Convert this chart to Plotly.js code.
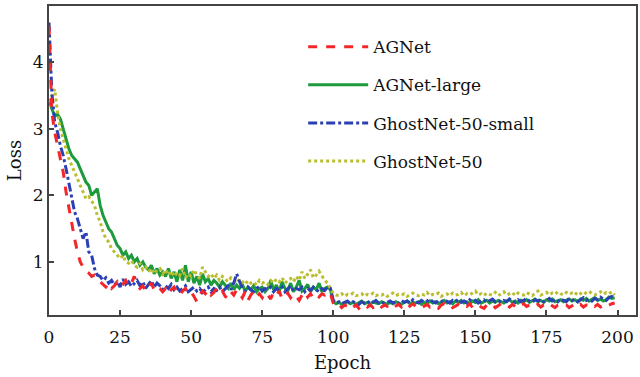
<!DOCTYPE html>
<html><head><meta charset="utf-8">
<script src="https://cdn.plot.ly/plotly-3.0.1.min.js"></script>
<style>html,body{margin:0;padding:0;background:#fff}#chart{width:640px;height:377px}</style>
</head><body><div id="chart"></div>
<script>
const seriesNames = ["AGNet", "AGNet-large", "GhostNet-50-small", "GhostNet-50"];
const xTicks = [0, 25, 50, 75, 100, 125, 150, 175, 200];
const yTicks = [1, 2, 3, 4];

const agnet = [
4.55,3.25,2.95,2.75,2.55,2.35,2.05,1.8,1.55,1.35,1.15,1.0,0.92,0.86,0.83,0.78,0.8,0.74,0.7,0.66,
0.62,0.68,0.6,0.64,0.7,0.62,0.66,0.72,0.63,0.68,0.78,0.66,0.6,0.64,0.56,0.62,0.68,0.58,0.63,0.6,
0.55,0.6,0.52,0.58,0.62,0.55,0.5,0.56,0.6,0.52,0.55,0.48,0.4,0.5,0.56,0.52,0.58,0.5,0.54,0.6,
0.52,0.56,0.48,0.45,0.55,0.5,0.58,0.52,0.46,0.55,0.42,0.5,0.56,0.48,0.52,0.46,0.54,0.5,0.44,0.55,
0.5,0.56,0.44,0.5,0.53,0.46,0.52,0.48,0.42,0.5,0.55,0.47,0.52,0.45,0.5,0.47,0.52,0.5,0.55,0.52,
0.38,0.33,0.36,0.31,0.35,0.33,0.37,0.32,0.35,0.3,0.34,0.36,0.32,0.35,0.31,0.34,0.37,0.32,0.35,0.33,
0.36,0.31,0.34,0.36,0.32,0.35,0.3,0.34,0.37,0.33,0.35,0.31,0.34,0.36,0.32,0.35,0.33,0.3,0.35,0.37,
0.33,0.35,0.31,0.34,0.36,0.32,0.35,0.33,0.37,0.31,0.34,0.36,0.32,0.3,0.35,0.33,0.36,0.31,0.34,0.37,
0.33,0.35,0.32,0.36,0.33,0.3,0.35,0.37,0.33,0.35,0.31,0.34,0.36,0.32,0.35,0.33,0.37,0.34,0.31,0.35,
0.36,0.33,0.35,0.31,0.34,0.37,0.33,0.36,0.32,0.35,0.34,0.37,0.33,0.36,0.32,0.34,0.31,0.35,0.37,0.38];

const agnetLarge = [
3.45,3.3,3.2,3.22,3.15,3.0,2.85,2.7,2.6,2.55,2.5,2.4,2.3,2.2,2.15,2.0,2.05,2.1,1.85,1.7,
1.6,1.5,1.45,1.35,1.25,1.2,1.1,1.15,1.05,1.1,1.0,1.05,0.95,1.0,0.92,0.88,0.95,0.82,0.9,0.8,
0.85,0.78,0.9,0.75,0.85,0.7,0.88,0.72,0.95,0.7,0.85,0.68,0.78,0.65,0.82,0.7,0.75,0.65,0.72,0.68,
0.62,0.7,0.65,0.6,0.68,0.58,0.65,0.6,0.66,0.56,0.62,0.58,0.64,0.55,0.6,0.62,0.55,0.6,0.72,0.58,
0.65,0.55,0.7,0.6,0.56,0.68,0.55,0.62,0.72,0.56,0.6,0.66,0.55,0.62,0.58,0.68,0.55,0.6,0.62,0.58,
0.4,0.37,0.39,0.36,0.38,0.4,0.37,0.39,0.36,0.38,0.41,0.37,0.39,0.36,0.4,0.38,0.37,0.4,0.38,0.36,
0.39,0.37,0.4,0.38,0.36,0.39,0.41,0.37,0.39,0.38,0.4,0.36,0.39,0.37,0.41,0.38,0.4,0.37,0.39,0.42,
0.38,0.4,0.37,0.41,0.39,0.42,0.38,0.4,0.37,0.41,0.39,0.43,0.38,0.4,0.42,0.38,0.41,0.39,0.42,0.4,
0.38,0.41,0.43,0.39,0.41,0.38,0.42,0.4,0.43,0.39,0.41,0.44,0.4,0.42,0.39,0.43,0.41,0.44,0.4,0.42,
0.43,0.4,0.42,0.44,0.41,0.43,0.4,0.44,0.42,0.45,0.41,0.43,0.46,0.42,0.44,0.41,0.43,0.47,0.45,0.46];

const ghostSmall = [
4.6,3.55,3.1,2.95,2.75,2.6,2.4,2.2,2.0,1.75,1.65,1.5,1.35,1.45,1.15,1.1,0.9,0.8,0.78,0.72,
0.76,0.68,0.72,0.65,0.7,0.62,0.74,0.66,0.7,0.63,0.68,0.72,0.64,0.7,0.6,0.66,0.72,0.62,0.68,0.64,
0.58,0.64,0.6,0.66,0.58,0.62,0.56,0.6,0.64,0.55,0.58,0.62,0.56,0.6,0.54,0.58,0.62,0.55,0.6,0.57,
0.62,0.55,0.6,0.64,0.58,0.68,0.82,0.7,0.6,0.56,0.62,0.58,0.55,0.6,0.63,0.56,0.6,0.58,0.62,0.55,
0.6,0.57,0.62,0.55,0.6,0.64,0.56,0.6,0.58,0.62,0.55,0.6,0.57,0.62,0.58,0.55,0.6,0.57,0.62,0.6,
0.42,0.38,0.4,0.37,0.39,0.41,0.37,0.4,0.38,0.36,0.4,0.38,0.41,0.37,0.39,0.42,0.38,0.4,0.37,0.39,
0.41,0.38,0.4,0.37,0.42,0.39,0.41,0.38,0.43,0.4,0.38,0.42,0.39,0.41,0.44,0.4,0.38,0.42,0.4,0.43,
0.41,0.38,0.42,0.4,0.44,0.39,0.41,0.38,0.43,0.4,0.42,0.38,0.41,0.43,0.39,0.41,0.44,0.4,0.42,0.39,
0.42,0.4,0.44,0.41,0.39,0.43,0.4,0.42,0.45,0.41,0.39,0.43,0.41,0.44,0.4,0.42,0.45,0.41,0.43,0.4,
0.44,0.42,0.4,0.45,0.42,0.44,0.4,0.43,0.46,0.42,0.44,0.41,0.45,0.43,0.47,0.44,0.42,0.46,0.48,0.45];

const ghost50 = [
3.4,3.5,3.6,3.25,3.0,2.85,2.7,2.55,2.45,2.35,2.25,2.15,2.05,1.95,1.98,1.92,1.85,1.7,1.6,1.45,
1.35,1.3,1.2,1.15,1.1,1.05,1.1,1.0,0.98,1.02,0.95,0.92,0.98,0.88,0.92,0.85,0.9,0.82,0.88,0.9,
0.82,0.88,0.8,0.86,0.78,0.84,0.8,0.9,0.76,0.82,0.78,0.88,0.8,0.75,0.92,0.85,0.78,0.82,0.75,0.8,
0.72,0.78,0.74,0.7,0.76,0.72,0.68,0.74,0.7,0.66,0.72,0.68,0.7,0.65,0.72,0.68,0.7,0.66,0.72,0.68,
0.74,0.7,0.76,0.68,0.72,0.75,0.7,0.78,0.72,0.85,0.75,0.82,0.88,0.76,0.8,0.86,0.78,0.72,0.68,0.6,
0.52,0.5,0.49,0.52,0.48,0.51,0.5,0.53,0.49,0.5,0.52,0.48,0.51,0.5,0.53,0.49,0.51,0.5,0.52,0.48,
0.5,0.53,0.49,0.51,0.5,0.52,0.48,0.51,0.53,0.5,0.49,0.52,0.5,0.54,0.49,0.51,0.5,0.53,0.48,0.51,
0.52,0.49,0.53,0.5,0.51,0.54,0.49,0.52,0.5,0.53,0.56,0.5,0.52,0.49,0.53,0.51,0.5,0.54,0.49,0.52,
0.55,0.5,0.52,0.54,0.49,0.53,0.51,0.5,0.54,0.52,0.49,0.53,0.56,0.5,0.52,0.54,0.5,0.53,0.51,0.55,
0.52,0.5,0.54,0.51,0.53,0.5,0.55,0.52,0.5,0.54,0.56,0.52,0.5,0.53,0.55,0.51,0.54,0.52,0.55,0.5];

const epochs = agnet.map((_, i) => i);

const FONT = "DejaVu Serif, Liberation Serif, serif";
function tr(name, y, color, dash, group) {
  return {x: epochs, y: y, name: name, type: 'scatter', mode: 'lines',
    legendgroup: group,
    line: {color: color, width: 3, dash: dash}};
}
const traces = [
  Object.assign(tr(seriesNames[1], agnetLarge, '#1c9a3c', 'solid', 'b'), {legendrank: 2}),
  Object.assign(tr(seriesNames[3], ghost50, '#b9bd2e', 'dot', 'd'), {legendrank: 4}),
  Object.assign(tr(seriesNames[2], ghostSmall, '#2a40b4', 'dashdot', 'c'), {legendrank: 3}),
  Object.assign(tr(seriesNames[0], agnet, '#f3262a', 'dash', 'a'), {legendrank: 1})
];

const layout = {
  width: 640, height: 377,
  margin: {l: 49, r: 4, t: 6, b: 62},
  paper_bgcolor: '#fff', plot_bgcolor: '#fff',
  font: {family: FONT, size: 17, color: '#111'},
  showlegend: true,
  legend: {x: 0.433, y: 0.925, xanchor: 'left', yanchor: 'top',
    font: {family: FONT, size: 17, color: '#111'}, itemwidth: 60,
    tracegroupgap: 13, bgcolor: 'rgba(255,255,255,0)', borderwidth: 0},
  xaxis: {range: [0, 206.5], tickvals: xTicks, ticktext: xTicks.map(String),
    ticks: 'inside', ticklen: 5, tickwidth: 2, tickcolor: '#444',
    ticklabelstandoff: 6,
    showline: true, linecolor: '#444', linewidth: 2, mirror: true,
    showgrid: false, zeroline: false,
    title: {text: 'Epoch', font: {family: FONT, size: 18}, standoff: 10}},
  yaxis: {range: [0.2, 4.85], tickvals: yTicks, ticktext: yTicks.map(String),
    ticks: 'inside', ticklen: 5, tickwidth: 2, tickcolor: '#444',
    showline: true, linecolor: '#444', linewidth: 2, mirror: true,
    showgrid: false, zeroline: false,
    title: {text: 'Loss', font: {family: FONT, size: 18}, standoff: 6}}
};
Plotly.newPlot('chart', traces, layout, {displayModeBar: false, staticPlot: true});
</script></body></html>
